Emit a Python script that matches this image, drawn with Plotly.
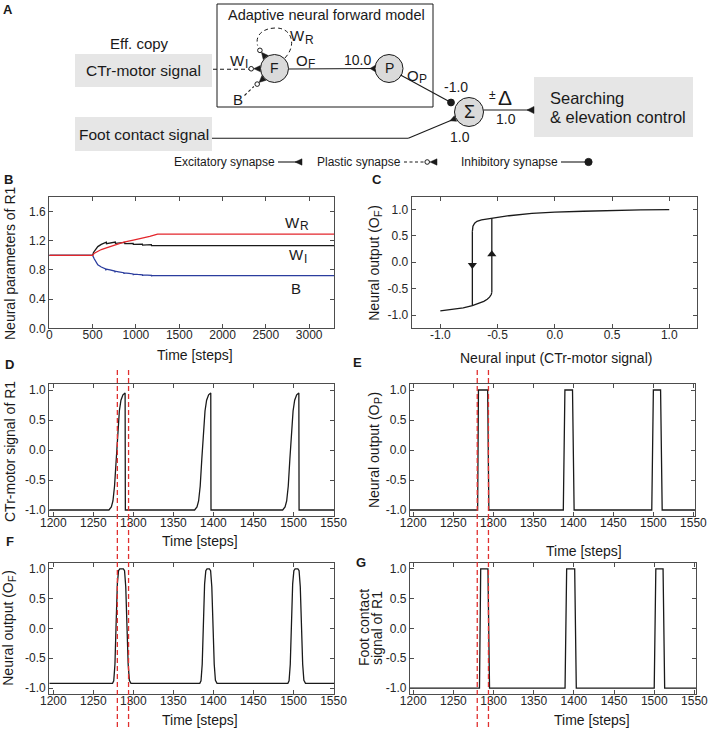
import math
import plotly.graph_objects as go

W, H = 708, 731
FONT = "Liberation Sans, Arial, Helvetica, sans-serif"
INK = "#1a1a1a"
FRAME = "#4d4d4d"

# ---------- B: parameters of the adaptive forward model of R1 ----------
wr_steps = [0, 500, 520, 560, 600, 650, 700, 780, 860, 970, 1060, 1160, 1220, 1250, 3290]
wr_vals = [1.0, 1.0, 1.03, 1.06, 1.08, 1.10, 1.12, 1.15, 1.18, 1.21, 1.23, 1.26, 1.28, 1.29, 1.29]

wi_steps = [0, 500, 510, 530, 560, 600, 640, 658, 660, 700, 750, 762, 764, 810, 860, 870, 872,
            920, 968, 970, 1020, 1075, 1077, 1130, 1178, 1180, 3290]
wi_vals = [1.0, 1.0, 1.04, 1.08, 1.12, 1.15, 1.17, 1.18, 1.16, 1.17, 1.18, 1.182, 1.165, 1.172,
           1.178, 1.178, 1.16, 1.163, 1.165, 1.15, 1.152, 1.155, 1.14, 1.144, 1.146, 1.134, 1.134]

bias_steps = [0, 500, 520, 540, 560, 600, 650, 652, 654, 700, 756, 758, 760, 800, 860, 862, 864,
              920, 967, 969, 971, 1020, 1075, 1077, 1079, 1130, 1179, 1181, 1183, 1250, 3290]
bias_vals = [1.0, 1.0, 0.95, 0.90, 0.87, 0.84, 0.815, 0.795, 0.812, 0.80, 0.785, 0.765, 0.783,
             0.775, 0.762, 0.745, 0.760, 0.752, 0.745, 0.728, 0.743, 0.738, 0.734, 0.718, 0.733,
             0.730, 0.727, 0.712, 0.726, 0.723, 0.723]

# ---------- C: hysteresis of neuron F ----------
upper_in = [-0.72, -0.715, -0.70, -0.68, -0.64, -0.55, -0.4, -0.2, 0.0, 0.25, 0.5, 0.75, 1.0]
upper_out = [0.58, 0.68, 0.74, 0.775, 0.80, 0.83, 0.88, 0.925, 0.95, 0.965, 0.98, 0.99, 0.995]
lower_in = [-1.0, -0.9, -0.8, -0.72, -0.66, -0.62, -0.59, -0.57, -0.555, -0.55]
lower_out = [-0.92, -0.895, -0.865, -0.82, -0.78, -0.74, -0.70, -0.66, -0.61, -0.57]
switch_in = [-0.72, -0.55]
switch_down_out = [0.58, -0.82]
switch_up_out = [-0.57, 0.83]
arrow_out = [-0.05, 0.15]

# ---------- D: CTr-motor signal of R1 ----------
ctr_steps = [1195,
             1269.5, 1272.5, 1274.5, 1276.5, 1278.5, 1280.5, 1282.5, 1284.5, 1287, 1289.7, 1290,
             1376.5, 1379.5, 1381.5, 1383.5, 1385.5, 1387.5, 1389.5, 1391.5, 1394, 1396.7, 1397,
             1486.5, 1489.5, 1491.5, 1493.5, 1495.5, 1497.5, 1499.5, 1501.5, 1504, 1506.7, 1507,
             1552]
ctr_vals = [-1.0,
            -1.0, -0.95, -0.85, -0.6, -0.15, 0.3, 0.65, 0.83, 0.92, 0.95, -1.0,
            -1.0, -0.95, -0.85, -0.6, -0.15, 0.3, 0.65, 0.83, 0.92, 0.95, -1.0,
            -1.0, -0.95, -0.85, -0.6, -0.15, 0.3, 0.65, 0.83, 0.92, 0.95, -1.0,
            -1.0]

# ---------- E: output of neuron P ----------
op_steps = [1195, 1280.5, 1281.5, 1293, 1294.5, 1387.5, 1389.5, 1399, 1401,
            1498, 1500, 1509, 1511, 1552]
op_vals = [-1, -1, 1, 1, -1, -1, 1, 1, -1, -1, 1, 1, -1, -1]

# ---------- F: output of neuron F ----------
of_steps = [1195,
            1274, 1275.5, 1277, 1278.5, 1280, 1281.5, 1283, 1287.5, 1289, 1290.5, 1292, 1293.5, 1295, 1297,
            1383, 1384.5, 1386, 1387.5, 1389, 1390.5, 1392, 1395, 1396.5, 1398, 1399.5, 1401, 1402.5, 1404.5,
            1493, 1494.5, 1496, 1497.5, 1499, 1500.5, 1502, 1505.5, 1507, 1508.5, 1510, 1511.5, 1513, 1515,
            1552]
of_vals = [-0.92,
           -0.92, -0.88, -0.6, 0.1, 0.75, 0.97, 1.0, 1.0, 0.97, 0.7, 0.0, -0.6, -0.87, -0.92,
           -0.92, -0.88, -0.6, 0.1, 0.75, 0.97, 1.0, 1.0, 0.97, 0.7, 0.0, -0.6, -0.87, -0.92,
           -0.92, -0.88, -0.6, 0.1, 0.75, 0.97, 1.0, 1.0, 0.97, 0.7, 0.0, -0.6, -0.87, -0.92,
           -0.92]

# ---------- G: foot contact signal of R1 ----------
foot_steps = [1195, 1282.5, 1284, 1293, 1295, 1389, 1391, 1401, 1403,
              1500, 1502, 1511, 1513, 1552]
foot_vals = [-1, -1, 1, 1, -1, -1, 1, 1, -1, -1, 1, 1, -1, -1]

window_steps = [1280, 1294]

level_ticks = [-1.0, -0.5, 0.0, 0.5, 1.0]
level_labels = ["-1.0", "-0.5", "0.0", "0.5", "1.0"]
param_ticks = [0.0, 0.4, 0.8, 1.2, 1.6]
param_labels = ["0.0", "0.4", "0.8", "1.2", "1.6"]

# Arial / Liberation Sans advance widths (1/1000 em), used to line up subscripts
ADV = {" ": 278, "(": 333, ")": 333, "N": 722, "O": 778, "F": 611, "P": 667, "W": 944,
       "I": 278, "R": 722, "a": 556, "e": 556, "l": 222, "o": 556, "p": 556, "r": 333,
       "t": 278, "u": 556}


def X(px):
    return px / W


def Y(py):
    return 1 - py / H


def xd(l, r):
    return [X(l), X(r)]


def yd(top, bottom):
    return [Y(bottom), Y(top)]


def axis(domain, rng, anchor, dtick=None, vals=None, labels=None, horizontal=True):
    d = dict(domain=domain, range=rng, anchor=anchor, showline=True, linecolor=FRAME,
             linewidth=1.2, mirror="allticks", ticks="inside", ticklen=4, tickwidth=1,
             tickcolor=FRAME, showgrid=False, zeroline=False, automargin=False,
             ticklabeloverflow="allow",
             tickfont=dict(size=12, color="#262626", family=FONT))
    if horizontal:
        d["ticklabelstandoff"] = -5
    if vals is not None:
        d.update(tickmode="array", tickvals=vals, ticktext=labels)
    else:
        d.update(dtick=dtick, tick0=0)
    return d


def yaxis(domain, rng, anchor, vals, labels):
    return axis(domain, rng, anchor, vals=vals, labels=labels, horizontal=False)


def line_trace(x, y, ax, color=INK):
    return go.Scatter(x=x, y=y, mode="lines", line=dict(color=color, width=1.3),
                      xaxis="x" + ax, yaxis="y" + ax, showlegend=False, hoverinfo="skip")


fig = go.Figure()

# B
fig.add_trace(line_trace(bias_steps, bias_vals, "", "#2b3d9e"))
fig.add_trace(line_trace(wi_steps, wi_vals, ""))
fig.add_trace(line_trace(wr_steps, wr_vals, "", "#e3262c"))
# C
fig.add_trace(line_trace(lower_in, lower_out, "2"))
fig.add_trace(line_trace(upper_in, upper_out, "2"))
fig.add_trace(line_trace([switch_in[0]] * 2, switch_down_out, "2"))
fig.add_trace(line_trace([switch_in[1]] * 2, switch_up_out, "2"))
fig.add_trace(go.Scatter(x=switch_in, y=arrow_out, mode="markers", xaxis="x2", yaxis="y2",
                         marker=dict(symbol=["triangle-down", "triangle-up"], size=8, color=INK),
                         showlegend=False, hoverinfo="skip"))
# D-G
fig.add_trace(line_trace(ctr_steps, ctr_vals, "3"))
fig.add_trace(line_trace(op_steps, op_vals, "4"))
fig.add_trace(line_trace(of_steps, of_vals, "5"))
fig.add_trace(line_trace(foot_steps, foot_vals, "6"))

shapes = []
ann = []


def txt(x, y, s, size=14, anchor="center", bold=False, angle=0):
    ann.append(dict(x=X(x), y=Y(y), xref="paper", yref="paper", text=s, showarrow=False,
                    xanchor=anchor, yanchor="middle", textangle=angle, borderpad=0,
                    font=dict(size=size, family=FONT, color=INK,
                              weight="bold" if bold else "normal")))


def tw(s, size):
    return sum(ADV[c] for c in s) * size / 1000.0


def sub_txt(x, y, main, sub, size=15, tail="", angle=0):
    # main text + lowered subscript (+ optional tail), centred on (x, y)
    ss = size * 0.8
    w1, w2, w3 = tw(main, size), tw(sub, ss), tw(tail, size)
    total = w1 + w2 + w3
    drop = 0.27 * size
    if angle == 0:
        left = x - total / 2
        txt(left + w1 / 2, y, main, size)
        txt(left + w1 + w2 / 2, y + drop, sub, ss)
        if tail:
            txt(left + w1 + w2 + w3 / 2, y, tail, size)
    else:
        bottom = y + total / 2
        txt(x, bottom - w1 / 2, main, size, angle=-90)
        txt(x + drop, bottom - w1 - w2 / 2, sub, ss, angle=-90)
        if tail:
            txt(x, bottom - w1 - w2 - w3 / 2, tail, size, angle=-90)


def seg(x0, y0, x1, y1, dash="solid", w=1.1):
    shapes.append(dict(type="line", xref="paper", yref="paper", x0=X(x0), y0=Y(y0),
                       x1=X(x1), y1=Y(y1), line=dict(color=INK, width=w, dash=dash)))


def circ(cx, cy, r, fill="white", w=1.0):
    shapes.append(dict(type="circle", xref="paper", yref="paper", x0=X(cx - r), x1=X(cx + r),
                       y0=Y(cy + r), y1=Y(cy - r), fillcolor=fill,
                       line=dict(color=INK, width=w)))


def box(x0, y0, x1, y1, fill="#e6e6e6", w=0):
    shapes.append(dict(type="rect", xref="paper", yref="paper", x0=X(x0), x1=X(x1),
                       y0=Y(y1), y1=Y(y0), fillcolor=fill,
                       line=dict(color=INK, width=w)))


def poly(pts):
    path = "M " + " L ".join("%.5f,%.5f" % (X(a), Y(b)) for a, b in pts) + " Z"
    shapes.append(dict(type="path", xref="paper", yref="paper", path=path,
                       fillcolor=INK, line=dict(color=INK, width=0.5)))


def syn(tx, ty, fx, fy, L=6.0, hw=3.0):
    # excitatory synapse: flat side on the target, tip back towards the source
    dx, dy = tx - fx, ty - fy
    n = math.hypot(dx, dy)
    ux, uy = dx / n, dy / n
    px, py = -uy, ux
    poly([(tx - L * ux, ty - L * uy), (tx + hw * px, ty + hw * py), (tx - hw * px, ty - hw * py)])


# ---------- A: network diagram ----------
txt(8, 10, "A", 13, bold=True)
box(217, 4, 433, 107, fill="rgba(0,0,0,0)", w=1)
txt(326, 15, "Adaptive neural forward model", 14.5)
txt(139, 43, "Eff. copy", 15)
box(75, 54, 212, 87)
txt(143.5, 70.5, "CTr-motor signal", 15.5)
box(75, 117, 212, 151)
txt(143.5, 134, "Foot contact signal", 15.5)
box(534, 77, 693, 137)
txt(549, 98, "Searching", 16.5, anchor="left")
txt(549, 117, "& elevation control", 16.5, anchor="left")

FX, FY, FR = 274.5, 68.5, 14
PX, PY, PR = 389, 68.5, 14
SX, SY, SR = 469, 112, 14.5

# plastic inputs of F
for sx, sy in [(230, 69), (250, 38), (244, 96)]:
    dx, dy = FX - sx, FY - sy
    n = math.hypot(dx, dy)
    ux, uy = dx / n, dy / n
    ex, ey = FX - FR * ux, FY - FR * uy
    cx, cy = ex - 9.3 * ux, ey - 9.3 * uy
    syn(ex, ey, sx, sy, L=6.8, hw=3.2)
    circ(cx, cy, 2.3, w=1)
seg(213, 69.3, FX - FR - 11.6, 69.3, dash="4px,3px")
seg(244.5, 95.5, 253.8, 86.5, dash="3px,2.5px")
shapes.append(dict(type="path", xref="paper", yref="paper",
                   path="M %.5f,%.5f C %.5f,%.5f %.5f,%.5f %.5f,%.5f C %.5f,%.5f %.5f,%.5f %.5f,%.5f" % (
                       X(285), Y(58), X(297), Y(45), X(292), Y(28), X(276), Y(28),
                       X(262), Y(28), X(255), Y(36), X(257.6), Y(45.5)),
                   line=dict(color=INK, width=1.0, dash="4px,3px")))
circ(FX, FY, FR, fill="#dadada")
txt(FX, FY, "F", 14)
sub_txt(239, 60, "W", "I")
sub_txt(302, 36, "W", "R")
txt(238, 100, "B", 15)
sub_txt(306, 60, "O", "F")

# F -> P
seg(FX + FR, 69, PX - PR, 68.5)
syn(PX - PR, 68.5, FX, 68.5, L=5, hw=3)
circ(PX, PY, PR, fill="#dadada")
txt(PX, PY, "P", 14)
txt(357, 60, "10.0", 14)
sub_txt(417, 75, "O", "P")

# P -> sum (inhibitory)
seg(400.5, 75, 451, 102.5)
circ(451, 102.5, 3.4, fill=INK)
txt(456, 87, "-1.0", 14)

# foot contact -> sum
seg(212, 138.3, 408.3, 138.3)
seg(408.3, 138.3, 455.5, 118.5)
syn(455.5, 118.5, 408.3, 138.3, L=6, hw=3)
txt(459.5, 137, "1.0", 14)

circ(SX, SY, SR, fill="#dadada")
txt(SX, SY, "Σ", 18)

# sum -> searching
seg(SX + SR, 110, 534, 110)
syn(534, 110, 490, 110, L=7, hw=3.5)
txt(492, 95, "±", 12)
txt(505, 97, "Δ", 21)
txt(506, 119, "1.0", 14)

# synapse legend
txt(276, 162, "Excitatory synapse", 12, anchor="right")
seg(278, 162, 297, 162)
syn(302, 162, 280, 162, L=7, hw=3.2)
txt(402, 162, "Plastic synapse", 12, anchor="right")
seg(404, 162, 424.5, 162, dash="3px,2.5px")
circ(427.2, 162, 2.3)
syn(437, 162, 420, 162, L=7, hw=3.2)
txt(559, 162, "Inhibitory synapse", 12, anchor="right")
seg(561, 162, 586, 162)
circ(588.5, 162, 3.6, fill=INK)

# ---------- panel labels and axis titles ----------
for lab, x, y in [("B", 8, 180), ("C", 377, 179), ("D", 9, 364), ("E", 358, 362),
                  ("F", 10, 541), ("G", 361, 562)]:
    txt(x, y, lab, 13, bold=True)

txt(195, 355, "Time [steps]", 14)
txt(556, 358, "Neural input (CTr-motor signal)", 14)
txt(200, 541, "Time [steps]", 14)
txt(584, 551, "Time [steps]", 14)
txt(200, 720, "Time [steps]", 14)
txt(592, 720, "Time [steps]", 14)

txt(10, 263, "Neural parameters of R1", 14, angle=-90)
sub_txt(374, 263, "Neural output (O", "F", 14, tail=")", angle=-90)
txt(10, 452, "CTr-motor signal of R1", 14, angle=-90)
sub_txt(374, 450, "Neural output (O", "P", 14, tail=")", angle=-90)
sub_txt(8, 628, "Neural output (O", "F", 14, tail=")", angle=-90)
txt(364, 628, "Foot contact", 14, angle=-90)
txt(377, 628, "signal of R1", 14, angle=-90)

sub_txt(297, 222, "W", "R")
sub_txt(298, 255, "W", "I")
txt(296, 288, "B", 15)

# dashed time window across D/F and E/G
for xa in ["x3", "x4"]:
    for s in window_steps:
        shapes.append(dict(type="line", xref=xa, yref="paper", x0=s, x1=s, y0=Y(727), y1=Y(370),
                           line=dict(color="#e0302f", width=1.3, dash="5px,3px")))

fig.update_layout(
    width=W, height=H,
    margin=dict(l=0, r=0, t=0, b=0, autoexpand=False),
    paper_bgcolor="white", plot_bgcolor="rgba(0,0,0,0)",
    font=dict(family=FONT, color=INK),
    showlegend=False,
    xaxis=axis(xd(49.3, 334.3), [0, 3290], "y", dtick=500),
    yaxis=yaxis(yd(197, 328.3), [0, 1.8], "x", param_ticks, param_labels),
    xaxis2=axis(xd(411.7, 696.7), [-1.25, 1.24], "y2", vals=level_ticks, labels=level_labels),
    yaxis2=yaxis(yd(196.7, 328.3), [-1.25, 1.24], "x2", level_ticks, level_labels),
    xaxis3=axis(xd(49.3, 334.3), [1195, 1551], "y3", dtick=50),
    yaxis3=yaxis(yd(384, 516), [-1.1, 1.1], "x3", level_ticks, level_labels),
    xaxis4=axis(xd(410, 695), [1196, 1552], "y4", dtick=50),
    yaxis4=yaxis(yd(384, 516), [-1.1, 1.1], "x4", level_ticks, level_labels),
    xaxis5=axis(xd(49.3, 334.3), [1195, 1551], "y5", dtick=50),
    yaxis5=yaxis(yd(563, 694), [-1.1, 1.1], "x5", level_ticks, level_labels),
    xaxis6=axis(xd(410, 696), [1196, 1552], "y6", dtick=50),
    yaxis6=yaxis(yd(563, 694), [-1.1, 1.1], "x6", level_ticks, level_labels),
    shapes=shapes,
    annotations=ann,
)

# the page body has a default 8px margin; drop it so the figure sits at the window origin
fig.write_html("out.html", config={"displayModeBar": False},
               post_script="document.body.style.margin='0px';")
